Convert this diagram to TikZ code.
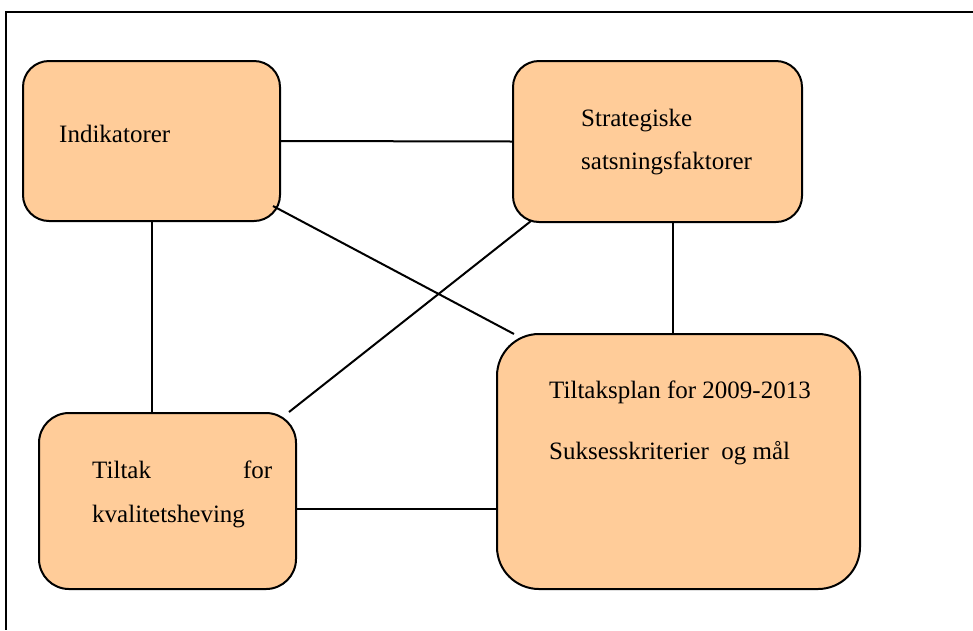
\documentclass[tikz,border=0pt]{standalone}
\usepackage{fontspec}
\setmainfont{Liberation Serif}
\usetikzlibrary{calc}
\definecolor{boxfill}{RGB}{255,204,153}
\begin{document}
\begin{tikzpicture}[x=1pt,y=-1pt,
  box/.style={draw=black, line width=2pt, fill=boxfill, rounded corners=#1,
    inner sep=0pt, outer sep=0pt, anchor=north west},
  link/.style={draw=black, line width=2pt},
  lbl/.style={anchor=base west, inner sep=0pt, font=\fontsize{25}{30}\selectfont},
]
\useasboundingbox (0,0) rectangle (973,630);

% frame along the top and left edges
\coordinate (frameTL) at (6,12);
\draw[line width=2pt] (frameTL -| 973,0) -- (frameTL) -- (frameTL |- 0,630);

% the four boxes
\node[box=26pt, minimum width=257pt, minimum height=160pt] (ind)   at (23,61)  {};
\node[box=26pt, minimum width=289pt, minimum height=161pt] (strat) at (513,61) {};
\node[box=30pt, minimum width=257pt, minimum height=176pt] (tilt)  at (39,413) {};
\node[box=42pt, minimum width=363pt, minimum height=255pt] (plan)  at (497,334) {};

% texts
\node[lbl] (tInd) at (59,142) {Indikatorer};
\node[lbl] (tStrat1) at (581,126) {Strategiske};
\node[lbl] (tStrat2) at (581,169) {satsningsfaktorer};
\node[lbl] (tTilt1) at (92,478) {\makebox[180pt][s]{Tiltak\hfill for}};
\node[lbl] (tTilt2) at (92,522) {kvalitetsheving};
\node[lbl] (tPlan1) at (549,398) {Tiltaksplan for 2009-2013};
\node[lbl] (tPlan2) at (549,459) {Suksesskriterier\ \ og mål};

% connector end points on the box rims
\coordinate (indCorner)   at (273,206);
\coordinate (planCorner)  at (514,334);
\coordinate (tiltCorner)  at (289,412);
\coordinate (stratCorner) at (531,221);

% connectors
\draw[link] (ind.east) -- (strat.west);
\draw[link] ([xshift=0.5pt]ind.south) -- ([xshift=0.5pt]ind.south |- tilt.north);
\draw[link] ([xshift=15.5pt]strat.south) -- ([xshift=15.5pt]strat.south |- plan.north);
\draw[link] ([yshift=-8pt]tilt.east) -- ([yshift=-8pt]tilt.east -| plan.west);
\draw[link] (indCorner) -- (planCorner);
\draw[link] (tiltCorner) -- (stratCorner);
\end{tikzpicture}
\end{document}
